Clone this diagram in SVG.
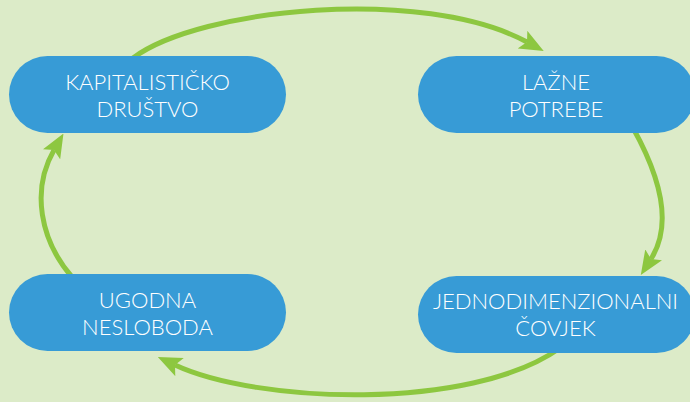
<svg xmlns="http://www.w3.org/2000/svg" width="690" height="402" viewBox="0 0 690 402">
  <style>
    .node rect { fill: #379BD6; }
    .node text { fill: #FFFFFF; font-family: "Lato", "Liberation Sans", Arial, sans-serif; font-weight: 300; font-size: 22px; text-anchor: middle; }
    .conn path { fill: none; stroke: #8DC740; stroke-width: 5; }
  </style>
  <defs>
    <marker id="arrow" viewBox="0 0 24 20" markerWidth="24" markerHeight="20" markerUnits="userSpaceOnUse" refX="5" refY="10" orient="auto">
      <path d="M0,0 L24,10 L0,20 L5,10 z" fill="#8DC740"/>
    </marker>
  </defs>
  <rect x="0" y="0" width="690" height="402" fill="#DCEBC8"/>

  <g id="connectors" class="conn">
    <path d="M133,58 C200,8 423,-14 527,42" marker-end="url(#arrow)"/>
    <path d="M633,128 C662,180 672,226 651,259" marker-end="url(#arrow)"/>
    <path d="M560,348 C470,412 256,403 175,365" marker-end="url(#arrow)"/>
    <path d="M72,277 C40,240 31,190 54,150" marker-end="url(#arrow)"/>
  </g>

  <g id="node-kapitalisticko" class="node">
    <rect x="9" y="56" width="277" height="77" rx="38.5"/>
    <text x="147.5" y="90">KAPITALISTIČKO</text>
    <text x="147.5" y="117">DRUŠTVO</text>
  </g>
  <g id="node-lazne" class="node">
    <rect x="418" y="56" width="277" height="77" rx="38.5"/>
    <text x="556" y="90">LAŽNE</text>
    <text x="556" y="117">POTREBE</text>
  </g>
  <g id="node-ugodna" class="node">
    <rect x="9" y="274" width="277" height="77" rx="38.5"/>
    <text x="147.5" y="308">UGODNA</text>
    <text x="147.5" y="335">NESLOBODA</text>
  </g>
  <g id="node-jednodim" class="node">
    <rect x="418" y="276" width="277" height="77" rx="38.5"/>
    <text x="555.5" y="309">JEDNODIMENZIONALNI</text>
    <text x="555.5" y="336">ČOVJEK</text>
  </g>
</svg>
